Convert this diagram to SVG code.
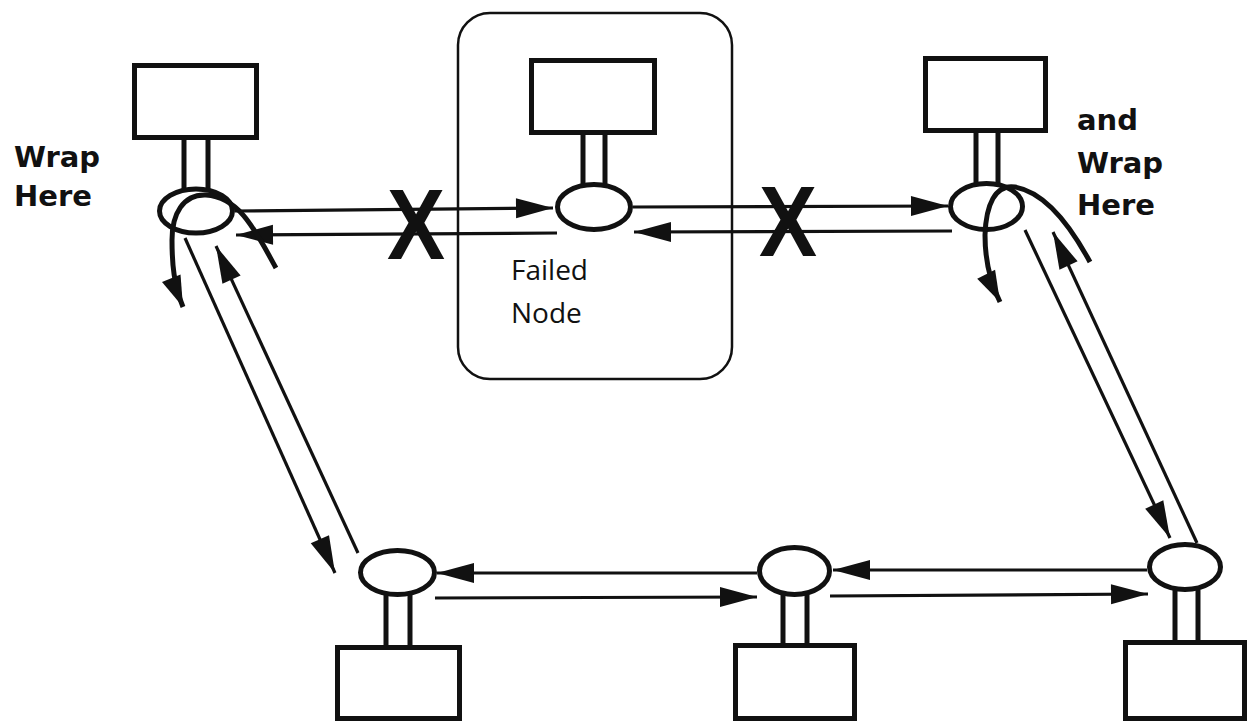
<svg xmlns="http://www.w3.org/2000/svg" width="1253" height="721" viewBox="0 0 1253 721">
  <style>
    .box { fill: #fff; stroke: #111; stroke-width: 5; }
    .stem { stroke: #111; stroke-width: 5; }
    .port { fill: #fff; stroke: #111; stroke-width: 5; }
    .link { fill: none; stroke: #111; stroke-width: 3.2; }
    .wrap { fill: none; stroke: #111; stroke-width: 5; }
    .frame { fill: none; stroke: #111; stroke-width: 2.5; }
    .note { font-family: "DejaVu Sans", sans-serif; font-weight: bold; font-size: 29px; fill: #111; }
    .label { font-family: "Open Sans", "DejaVu Sans", sans-serif; font-size: 28px; fill: #111; }
    .cut { font-family: "Liberation Sans", Arial, sans-serif; font-weight: bold; font-size: 100px; fill: #111; }
  </style>
  <defs>
    <marker id="ah" markerUnits="userSpaceOnUse" orient="auto" overflow="visible" refX="0" refY="0" markerWidth="1" markerHeight="1">
      <path d="M0,0 L-37,-10 L-37,10 Z" fill="#111"/>
    </marker>
    <marker id="wh" markerUnits="userSpaceOnUse" orient="auto" overflow="visible" refX="0" refY="0" markerWidth="1" markerHeight="1">
      <path d="M0,0 L-31,-10 L-31,10 Z" fill="#111"/>
    </marker>
  </defs>
  <rect width="1253" height="721" fill="#fff"/>

  <!-- failed station enclosure -->
  <g id="failed-frame">
    <rect class="frame" x="458" y="13" width="274" height="366" rx="32"/>
    <text class="label" x="511" y="280">Failed</text>
    <text class="label" x="511" y="323">Node</text>
  </g>

  <!-- ring links -->
  <g id="connectors">
    <!-- top span: left station <-> failed station -->
    <line class="link" x1="235" y1="211" x2="553" y2="208" marker-end="url(#ah)"/>
    <line class="link" x1="557" y1="233" x2="236" y2="235" marker-end="url(#ah)"/>
    <!-- top span: failed station <-> right station -->
    <line class="link" x1="633" y1="207" x2="948" y2="206" marker-end="url(#ah)"/>
    <line class="link" x1="952" y1="231" x2="634" y2="232" marker-end="url(#ah)"/>
    <!-- left diagonal -->
    <line class="link" x1="185" y1="238" x2="335" y2="573" marker-end="url(#ah)"/>
    <line class="link" x1="358" y1="553" x2="216" y2="246" marker-end="url(#ah)"/>
    <!-- right diagonal -->
    <line class="link" x1="1025" y1="230" x2="1170" y2="538" marker-end="url(#ah)"/>
    <line class="link" x1="1197" y1="543" x2="1053" y2="232" marker-end="url(#ah)"/>
    <!-- bottom span: left <-> middle -->
    <line class="link" x1="757" y1="573" x2="437" y2="573" marker-end="url(#ah)"/>
    <line class="link" x1="435" y1="598" x2="757" y2="597" marker-end="url(#ah)"/>
    <!-- bottom span: middle <-> right -->
    <line class="link" x1="1147" y1="570" x2="833" y2="570" marker-end="url(#ah)"/>
    <line class="link" x1="830" y1="596" x2="1148" y2="594" marker-end="url(#ah)"/>
    <!-- broken-link marks -->
    <text class="cut" text-anchor="middle" transform="translate(416,259) scale(0.87,1)">X</text>
    <text class="cut" text-anchor="middle" transform="translate(788,256) scale(0.87,1)">X</text>
  </g>

  <!-- stations -->
  <g id="node-top-left">
    <rect class="box" x="134.5" y="65.5" width="122" height="72"/>
    <line class="stem" x1="184" y1="138" x2="184" y2="190"/>
    <line class="stem" x1="208" y1="138" x2="208" y2="190"/>
    <ellipse class="port" cx="196" cy="211" rx="36.5" ry="22"/>
    <path class="wrap" d="M276,268 C256,232 240,197 206,195 C183,194 172,214 172,240 C172,265 174,285 183,307" marker-end="url(#wh)"/>
  </g>

  <g id="node-failed">
    <rect class="box" x="531.5" y="60.5" width="123" height="72"/>
    <line class="stem" x1="583" y1="133" x2="583" y2="185"/>
    <line class="stem" x1="605" y1="133" x2="605" y2="185"/>
    <ellipse class="port" cx="594" cy="207" rx="36.5" ry="22.5"/>
  </g>

  <g id="node-top-right">
    <rect class="box" x="925.5" y="58.5" width="120" height="72"/>
    <line class="stem" x1="976" y1="131" x2="976" y2="184"/>
    <line class="stem" x1="998" y1="131" x2="998" y2="184"/>
    <ellipse class="port" cx="986.5" cy="206.5" rx="36" ry="23"/>
    <path class="wrap" d="M1090,262 C1070,225 1045,192 1015,187 C995,184 986,205 985,235 C985,262 990,282 1000,302" marker-end="url(#wh)"/>
  </g>

  <g id="node-bottom-left">
    <ellipse class="port" cx="397.5" cy="572.5" rx="37" ry="22"/>
    <line class="stem" x1="386" y1="595" x2="386" y2="647"/>
    <line class="stem" x1="410" y1="595" x2="410" y2="647"/>
    <rect class="box" x="337.5" y="647.5" width="122" height="71"/>
  </g>

  <g id="node-bottom-middle">
    <ellipse class="port" cx="794.5" cy="571" rx="35" ry="23.5"/>
    <line class="stem" x1="783" y1="595" x2="783" y2="645"/>
    <line class="stem" x1="807" y1="595" x2="807" y2="645"/>
    <rect class="box" x="735.5" y="645.5" width="119" height="73"/>
  </g>

  <g id="node-bottom-right">
    <ellipse class="port" cx="1185" cy="567" rx="35.5" ry="22.5"/>
    <line class="stem" x1="1175" y1="590" x2="1175" y2="642"/>
    <line class="stem" x1="1198" y1="590" x2="1198" y2="642"/>
    <rect class="box" x="1125.5" y="642.5" width="119" height="76"/>
  </g>

  <!-- wrap annotations -->
  <g id="wrap-notes">
    <text class="note" x="14" y="167">Wrap</text>
    <text class="note" x="14" y="206">Here</text>
    <text class="note" x="1077" y="130">and</text>
    <text class="note" x="1077" y="173">Wrap</text>
    <text class="note" x="1077" y="215">Here</text>
  </g>
</svg>
